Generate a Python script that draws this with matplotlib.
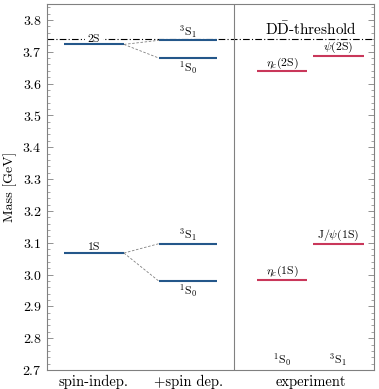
import numpy as np
import matplotlib
matplotlib.use("Agg")
import matplotlib.pyplot as plt
from matplotlib.ticker import MultipleLocator

plt.rcParams["font.family"] = "serif"
plt.rcParams["font.serif"] = ["cmr10", "DejaVu Serif"]
plt.rcParams["mathtext.fontset"] = "cm"
plt.rcParams["axes.formatter.use_mathtext"] = True

# data (GeV)
columns = ["spin-indep.", "+spin dep.", "experiment"]
spin_indep_labels = ["1S", "2S"]
spin_indep_mass = [3.0675, 3.723]
spin_dep_1S0 = [2.979, 3.680]
spin_dep_3S1 = [3.097, 3.736]
exp_1S0_labels = [r"$\eta_c(1\mathrm{S})$", r"$\eta_c(2\mathrm{S})$"]
exp_1S0 = [2.984, 3.638]
exp_3S1_labels = [r"$\mathrm{J}/\psi(1\mathrm{S})$", r"$\psi(2\mathrm{S})$"]
exp_3S1 = [3.097, 3.686]
dd_threshold = 3.739

blue = "#24578a"
red = "#c9375a"

# horizontal extents of the level bars (axes fraction)
si_x = (0.053, 0.236)
sd_x = (0.343, 0.521)
e1_x = (0.643, 0.795)
e3_x = (0.813, 0.969)
divider = 0.572

fig = plt.figure(figsize=(3.79, 3.89), dpi=100)
ax = fig.add_axes([46.7 / 379, 19 / 389, 327.3 / 379, 366 / 389])
ax.set_xlim(0, 1)
ax.set_ylim(2.7, 3.85)

fs = 8.5
for lab, m, m0, m1 in zip(spin_indep_labels, spin_indep_mass, spin_dep_1S0, spin_dep_3S1):
    ax.hlines(m, *si_x, color=blue, lw=1.5, zorder=3)
    ax.text(np.mean(si_x), m + 0.002, lab, ha="center", va="bottom", fontsize=fs, zorder=2.5,
            bbox=dict(facecolor="white", edgecolor="none", pad=2))
    ax.hlines([m0, m1], *sd_x, color=blue, lw=1.5, zorder=3)
    ax.text(np.mean(sd_x), m1 + 0.002, r"$^3\mathrm{S}_1$", ha="center", va="bottom", fontsize=fs)
    ax.text(np.mean(sd_x), m0 - 0.002, r"$^1\mathrm{S}_0$", ha="center", va="top", fontsize=fs)
    for mm in (m0, m1):
        ax.plot([si_x[1], sd_x[0]], [m, mm], color="gray", lw=0.6, dashes=(3, 2))

for lab, m in zip(exp_1S0_labels, exp_1S0):
    ax.hlines(m, *e1_x, color=red, lw=1.5)
    ax.text(np.mean(e1_x), m + 0.003, lab, ha="center", va="bottom", fontsize=fs)
for lab, m in zip(exp_3S1_labels, exp_3S1):
    ax.hlines(m, *e3_x, color=red, lw=1.5)
    ax.text(np.mean(e3_x), m + 0.003, lab, ha="center", va="bottom", fontsize=fs)

ax.text(np.mean(e1_x), 2.707, r"$^1\mathrm{S}_0$", ha="center", va="bottom", fontsize=fs)
ax.text(np.mean(e3_x), 2.707, r"$^3\mathrm{S}_1$", ha="center", va="bottom", fontsize=fs)

ax.axhline(dd_threshold, color="black", lw=0.8, ls=(0, (6, 2, 1, 2)), zorder=2)
ax.text(0.806, dd_threshold + 0.005, r"$\mathrm{D\bar{D}}$-threshold", ha="center", va="bottom", fontsize=11)

ax.axvline(divider, color="gray", lw=0.8)

ax.set_xticks([np.mean(si_x), np.mean(sd_x), 0.806])
ax.set_xticklabels(columns, fontsize=10.5)
ax.tick_params(axis="x", length=0)
ax.yaxis.set_major_locator(MultipleLocator(0.1))
ax.yaxis.set_minor_locator(MultipleLocator(0.02))
ax.tick_params(axis="y", which="both", direction="in", right=True, labelsize=10)
ax.tick_params(axis="y", which="major", length=4, width=0.6, color="gray")
ax.tick_params(axis="y", which="minor", length=2, width=0.5, color="gray")
ax.set_ylabel("Mass [GeV]", fontsize=10)
for s in ax.spines.values():
    s.set_color("gray")
    s.set_linewidth(0.8)

fig.savefig("out.png", dpi=100)
